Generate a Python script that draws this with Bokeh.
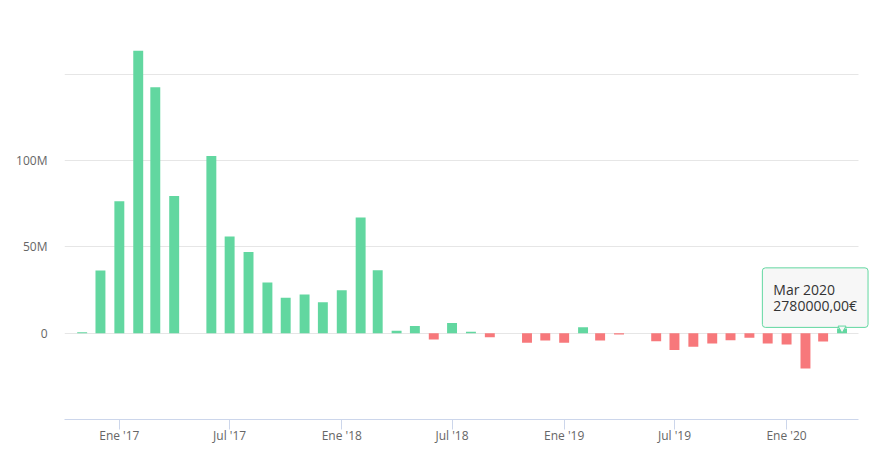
import pandas as pd
from bokeh.plotting import figure
from bokeh.models import (ColumnDataSource, Range1d, FixedTicker,
                          CustomJSTickFormatter, Label)
from bokeh.embed import file_html
from bokeh.resources import INLINE

# ---- data (monthly net values, EUR) ----
months = ["2016-10", "2016-11", "2016-12",
          "2017-01", "2017-02", "2017-03", "2017-04", "2017-05", "2017-06",
          "2017-07", "2017-08", "2017-09", "2017-10", "2017-11", "2017-12",
          "2018-01", "2018-02", "2018-03", "2018-04", "2018-05", "2018-06",
          "2018-07", "2018-08", "2018-09", "2018-10", "2018-11", "2018-12",
          "2019-01", "2019-02", "2019-03", "2019-04", "2019-05", "2019-06",
          "2019-07", "2019-08", "2019-09", "2019-10", "2019-11", "2019-12",
          "2020-01", "2020-02", "2020-03"]
values_m = [0.5, 36.3, 76.5,
            163.7, 142.5, 79.5, 0.0, 102.7, 56.0,
            47.1, 29.3, 20.5, 22.4, 18.0, 24.9,
            67.0, 36.5, 1.4, 4.2, -3.6, 5.9,
            0.9, -2.4, 0.0, -5.5, -4.2, -5.5,
            3.4, -4.2, -0.8, 0.0, -4.6, -9.7,
            -7.9, -6.0, -4.1, -2.7, -6.0, -6.6,
            -20.5, -4.8, 2.78]

x_tick_dates = ["2017-01-01", "2017-07-01", "2018-01-01", "2018-07-01",
                "2019-01-01", "2019-07-01", "2020-01-01"]
x_tick_labels = ["Ene '17", "Jul '17", "Ene '18", "Jul '18",
                 "Ene '19", "Jul '19", "Ene '20"]
y_tick_values = [-50e6, 0, 50e6, 100e6, 150e6]
y_tick_labels = ["", "0", "50M", "100M", ""]

tooltip_text = "Mar 2020\n2780000,00€"

GREEN = "#62d7a0"
RED = "#f7787b"

# ---- build source ----
dates = [p.to_timestamp(how="end") for p in pd.PeriodIndex(months, freq="M")]
vals = [v * 1e6 for v in values_m]
colors = [GREEN if v >= 0 else RED for v in vals]
src = ColumnDataSource(dict(x=dates, top=vals, color=colors))

# plot-area extent along x (axis/grid), frame extended a bit for the tooltip
area_start = pd.Timestamp("2016-10-03").value / 1e6
area_end = pd.Timestamp("2020-04-28").value / 1e6
frame_end = pd.Timestamp("2020-05-21").value / 1e6

p = figure(width=876, height=455, x_axis_type="datetime",
           output_backend="svg", toolbar_location=None,
           x_range=Range1d(area_start, frame_end),
           y_range=Range1d(-50e6, 180e6),
           min_border_left=64, min_border_right=4,
           min_border_top=22, min_border_bottom=36)
p.outline_line_color = None
p.background_fill_color = "white"
p.border_fill_color = "white"

DAY = 86400000
p.vbar(x="x", top="top", bottom=0, width=16.3 * DAY, color="color",
       line_color=None, source=src)

JS = ("for (let i = 0; i < tvals.length; i++) {"
      " if (Math.abs(tvals[i] - tick) < 1) return tlabels[i]; } return '';")

# x axis
x_ticks_ms = [pd.Timestamp(d).value / 1e6 for d in x_tick_dates]
xa = p.xaxis[0]
xa.ticker = FixedTicker(ticks=x_ticks_ms)
xa.formatter = CustomJSTickFormatter(
    args=dict(tvals=x_ticks_ms, tlabels=x_tick_labels), code=JS)
xa.bounds = (area_start, area_end)
xa.axis_line_color = "#ccd6eb"
xa.major_tick_line_color = "#ccd6eb"
xa.major_tick_out = 10
xa.major_tick_in = 0
xa.minor_tick_line_color = None
xa.major_label_text_font = "Open Sans"
xa.major_label_text_font_size = "12px"
xa.major_label_text_color = "#666666"
xa.major_label_standoff = -3

# y axis
ya = p.yaxis[0]
ya.ticker = FixedTicker(ticks=y_tick_values)
ya.formatter = CustomJSTickFormatter(
    args=dict(tvals=y_tick_values, tlabels=y_tick_labels), code=JS)
ya.axis_line_color = None
ya.major_tick_line_color = None
ya.minor_tick_line_color = None
ya.major_label_text_font = "Open Sans"
ya.major_label_text_font_size = "12px"
ya.major_label_text_color = "#666666"
ya.major_label_standoff = 11

p.xgrid.grid_line_color = None
p.ygrid.ticker = FixedTicker(ticks=y_tick_values)
p.ygrid.grid_line_color = "#e6e6e6"
p.ygrid.cross_bounds = (area_start, area_end)

# tooltip for the last point
last_x = dates[-1]
last_y = vals[-1]
common = dict(x=last_x, y=last_y, x_units="data", y_units="data",
              text=tooltip_text, anchor="bottom_right",
              text_font="Open Sans", text_font_size="14px",
              text_line_height=0.87, padding=(11, 12), border_radius=3)
shadow = Label(x_offset=27, y_offset=0, text_alpha=0,
               background_fill_color="#000000", background_fill_alpha=0.07,
               border_line_color=None, **common)
tip = Label(x_offset=26, y_offset=1, text_color="#333333",
            background_fill_color="#f7f7f7", background_fill_alpha=1.0,
            border_line_color=GREEN, border_line_width=1, **common)
p.add_layout(shadow)
p.add_layout(tip)
p.scatter(x=[last_x], y=[last_y], marker="inverted_triangle",
          size=8, fill_color="#f7f7f7", line_color=GREEN, level="overlay")

open("out.html", "w").write(file_html(p, INLINE))
